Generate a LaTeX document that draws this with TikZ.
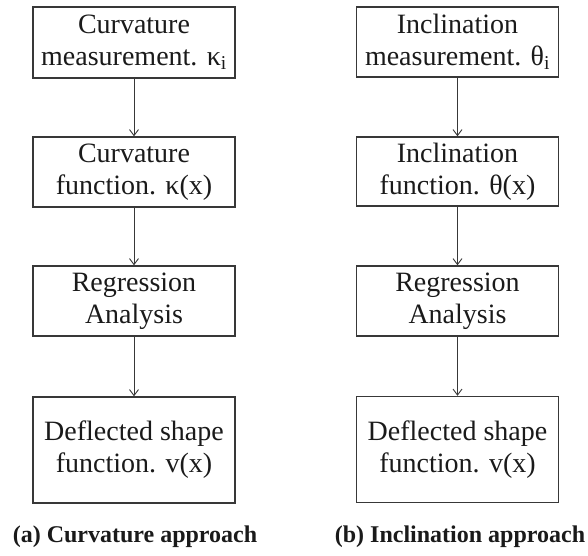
\documentclass[tikz,border=0pt]{standalone}
\usepackage{fontspec}
\setmainfont{Liberation Serif}
\usetikzlibrary{arrows.meta}
\definecolor{ink}{HTML}{1A1A1A}
\definecolor{edge}{HTML}{383838}
\tikzset{
  box/.style={draw=edge, line width=1.4pt, minimum width=202pt, inner sep=0pt, align=center,
    text=ink, font=\fontsize{28}{32}\selectfont},
  conn/.style={draw=edge, line width=0.9pt, -{Straight Barb[length=6pt,width=9pt]}},
  captext/.style={text=ink, font=\fontsize{24}{28}\selectfont\bfseries, inner sep=0pt}
}
\begin{document}
\begin{tikzpicture}[x=1pt,y=-1pt]
\useasboundingbox (0,0) rectangle (588,555);
% left column
\node[box, minimum height=71pt] (a1) at (134,42.5) {Curvature\\measurement. κ\textsubscript{i}};
\node[box, minimum height=70pt] (a2) at (134,172) {Curvature\\function. κ(x)};
\node[box, minimum height=70pt] (a3) at (134,301) {Regression\\Analysis};
\node[box, minimum height=106pt] (a4) at (134,450) {Deflected shape\\function. v(x)};
\node[captext] (ca) at (135,537) {(a) Curvature approach};
% right column
\node[box, minimum height=70pt] (b1) at (457.5,42) {Inclination\\measurement. θ\textsubscript{i}};
\node[box, minimum height=69pt] (b2) at (457.5,171.5) {Inclination\\function. θ(x)};
\node[box, minimum height=70pt] (b3) at (457.5,301) {Regression\\Analysis};
\node[box, minimum height=106pt] (b4) at (457.5,449.5) {Deflected shape\\function. v(x)};
\node[captext] (cb) at (460,537) {(b) Inclination approach};
% connectors
\draw[conn] (a1) -- (a2);
\draw[conn] (a2) -- (a3);
\draw[conn] (a3) -- (a4);
\draw[conn] (b1) -- (b2);
\draw[conn] (b2) -- (b3);
\draw[conn] (b3) -- (b4);
\end{tikzpicture}
\end{document}
